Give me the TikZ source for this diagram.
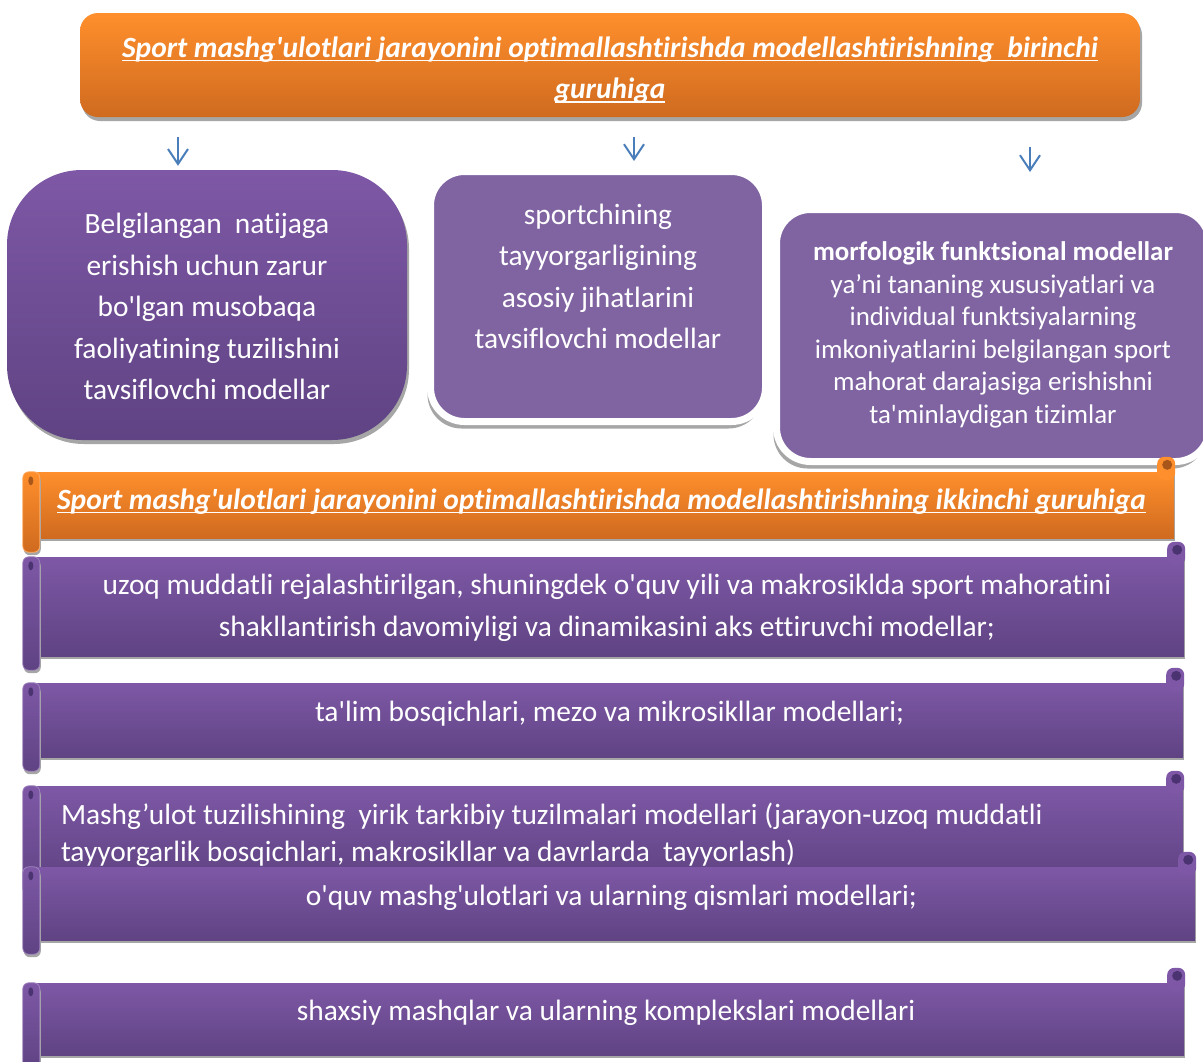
\documentclass[tikz,border=0pt]{standalone}
\usepackage{fontspec}
\setmainfont{Carlito}[Ligatures={TeXOff,NoCommon}]
\usetikzlibrary{positioning,shadows,arrows.meta,calc}

\definecolor{hdrtop}{HTML}{FF8F2C}
\definecolor{hdrbot}{HTML}{CF6A1F}
\definecolor{hdrdark}{HTML}{A9561A}
\definecolor{violtop}{HTML}{7E58A6}
\definecolor{violbot}{HTML}{5F4383}
\definecolor{violdark}{HTML}{4B3270}
\definecolor{violflat}{HTML}{8064A2}
\definecolor{shadowgrey}{HTML}{A6A6A6}
\definecolor{arrowblue}{HTML}{4A7EBB}

% underline that runs close under the baseline
\newcommand\undertext[1]{\setbox0=\hbox{#1}\rlap{\rule[-4pt]{\wd0}{1.6pt}}\box0}

\tikzset{
  orangefill/.style={top color=hdrtop, bottom color=hdrbot},
  violetfill/.style={top color=violtop, bottom color=violbot},
  boxshadow/.style={drop shadow={shadow xshift=2pt, shadow yshift=-4pt,
      fill=shadowgrey, opacity=1}},
  scrollshadow/.style={drop shadow={shadow xshift=1pt, shadow yshift=-3pt,
      fill=shadowgrey, opacity=1}},
  framedbox/.style={fill=violflat, draw=white, line width=7pt,
    rounded corners=34pt, drop shadow={shadow xshift=-3pt,
      shadow yshift=-7pt, fill=shadowgrey, opacity=1}},
  lighttext/.style={text=white, inner sep=0pt, align=center,
    font=\fontsize{29.4}{41.5}\selectfont,
    execute at begin node=\strut, execute at end node=\strut},
  headtext/.style={lighttext, font=\fontsize{29.4}{41.5}\selectfont\bfseries\itshape},
  flowarrow/.style={draw=arrowblue, line width=2pt,
    -{Straight Barb[length=15pt,width=20pt]}},
}

% rolled ends of a scroll banner round the body node #1
\newcommand\scrollends[4]{%
  \shadedraw[top color=#2, bottom color=#3, draw=#2!75!white, line width=0.8pt,
    rounded corners=6pt, scrollshadow]
    ([xshift=-13pt]#1.north west) rectangle ([xshift=4pt,yshift=-14pt]#1.south west);
  \fill[#4] ([xshift=-5pt,yshift=-9pt]#1.north west) ellipse [x radius=2.5pt, y radius=4.5pt];
  \fill[#2, rounded corners=7pt]
    ([xshift=-17pt,yshift=15pt]#1.north east) rectangle ([xshift=1pt,yshift=-8pt]#1.north east);
  \fill[#4] ([xshift=-7pt,yshift=7pt]#1.north east) circle [radius=5pt];
}

\begin{document}
\begin{tikzpicture}[x=1pt, y=-1pt]
  \useasboundingbox (0,0) rectangle (1203,1061);
  \fill[white] (0,0) rectangle (1203,1061);
  \clip (0,0) rectangle (1203,1061);

  % first group
  \node[orangefill, boxshadow, rounded corners=18pt, minimum width=1060pt,
    minimum height=104pt] (grp1) at (610,65) {};
  \node[headtext] (grp1text) at ([yshift=-9pt]grp1.center)
    {\undertext{Sport mashg'ulotlari jarayonini optimallashtirishda modellashtirishning~ birinchi}\\
     \undertext{guruhiga}};

  \node[violetfill, boxshadow, rounded corners=75pt,
    minimum width=400pt, minimum height=270pt] (leftbox) at (207,305) {};
  \node[lighttext] (lefttext) at ([yshift=-8pt]leftbox.center)
    {Belgilangan~ natijaga\\erishish uchun zarur\\bo'lgan musobaqa\\
     faoliyatining tuzilishini\\tavsiflovchi modellar};

  \node[framedbox, minimum width=335pt, minimum height=250pt] (midbox) at (598,296.5) {};
  \node[lighttext] (midtext) at ([yshift=14pt]midbox.center)
    {sportchining\\tayyorgarligining\\asosiy jihatlarini\\tavsiflovchi modellar};

  \node[framedbox, minimum width=433pt, minimum height=252pt] (rightbox) at (993,335.5) {};
  \node[lighttext, font=\fontsize{26.9}{32.6}\selectfont] (righttext)
    at ([yshift=-2pt]rightbox.center)
    {\textbf{morfologik funktsional modellar}\\ya’ni tananing xususiyatlari va\\
     individual funktsiyalarning\\imkoniyatlarini belgilangan sport\\
     mahorat darajasiga erishishni\\ta'minlaydigan tizimlar};

  \coordinate (arr1) at (178,137);
  \coordinate (arr2) at (634,137);
  \coordinate (arr3) at (1030,147);
  \draw[flowarrow, shorten >=4pt] (arr1) -- (arr1 |- leftbox.north);
  \draw[flowarrow, shorten >=7pt] (arr2) -- (arr2 |- midbox.north);
  \draw[flowarrow, shorten >=34pt] (arr3) -- (arr3 |- rightbox.north);

  % second group
  \node[orangefill, scrollshadow, minimum width=1138pt, minimum height=66pt] (grp2) at (605,505) {};
  \scrollends{grp2}{hdrtop}{hdrbot}{hdrdark}
  \node[headtext] (grp2text) at ([xshift=-3.5pt,yshift=4pt]grp2.center)
    {\undertext{Sport mashg'ulotlari jarayonini optimallashtirishda modellashtirishning ikkinchi guruhiga}};

  \node[violetfill, scrollshadow, minimum width=1148pt, minimum height=99pt] (sc1) at (610,606.5) {};
  \scrollends{sc1}{violtop}{violbot}{violdark}
  \node[lighttext] (sc1text) at ([xshift=-3pt,yshift=-5pt]sc1.center)
    {uzoq muddatli rejalashtirilgan, shuningdek o'quv yili va makrosiklda sport mahoratini\\
     shakllantirish davomiyligi va dinamikasini aks ettiruvchi modellar;};

  \node[violetfill, scrollshadow, minimum width=1147pt, minimum height=74pt] (sc2) at (609.5,720) {};
  \scrollends{sc2}{violtop}{violbot}{violdark}
  \node[lighttext] (sc2text) at ([yshift=7pt]sc2.center)
    {ta'lim bosqichlari, mezo va mikrosikllar modellari;};

  \node[violetfill, scrollshadow, minimum width=1147pt, minimum height=94pt] (sc3) at (609.5,833) {};
  \scrollends{sc3}{violtop}{violbot}{violdark}
  \node[lighttext, font=\fontsize{29.4}{37}\selectfont, align=left, anchor=west]
    (sc3text) at ([xshift=25pt,yshift=-5pt]sc3.west)
    {Mashg’ulot tuzilishining~ yirik tarkibiy tuzilmalari modellari (jarayon-uzoq muddatli\\
     tayyorgarlik bosqichlari, makrosikllar va davrlarda~ tayyorlash)};

  \node[violetfill, scrollshadow, minimum width=1159pt, minimum height=73pt] (sc4) at (615.5,903.5) {};
  \scrollends{sc4}{violtop}{violbot}{violdark}
  \node[lighttext] (sc4text) at ([xshift=-4pt,yshift=6pt]sc4.center)
    {o'quv mashg'ulotlari va ularning qismlari modellari;};

  \node[violetfill, scrollshadow, minimum width=1148pt, minimum height=72pt] (sc5) at (610,1019) {};
  \scrollends{sc5}{violtop}{violbot}{violdark}
  \node[lighttext] (sc5text) at ([xshift=-4pt,yshift=7pt]sc5.center)
    {shaxsiy mashqlar va ularning komplekslari modellari};
\end{tikzpicture}
\end{document}
